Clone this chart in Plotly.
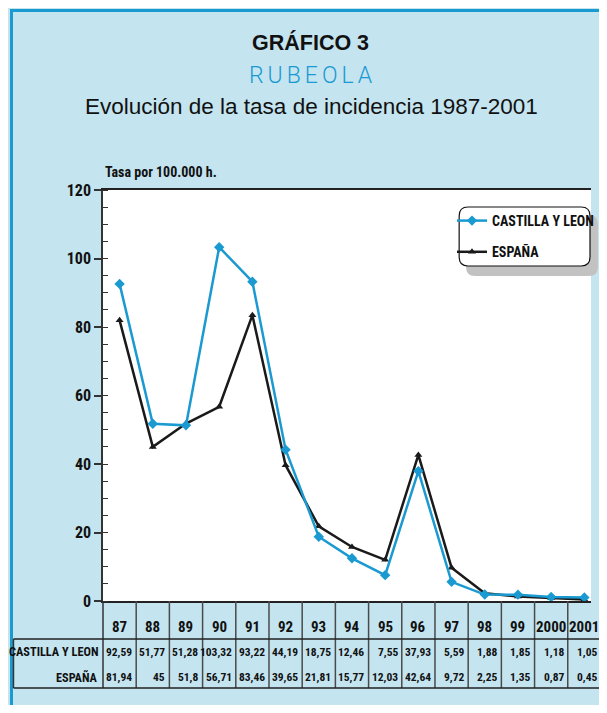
import plotly.graph_objects as go

# ---------------- data ----------------
years = ["87", "88", "89", "90", "91", "92", "93", "94", "95", "96", "97", "98", "99", "2000", "2001"]
castilla = [92.59, 51.77, 51.28, 103.32, 93.22, 44.19, 18.75, 12.46, 7.55, 37.93, 5.59, 1.88, 1.85, 1.18, 1.05]
espana = [81.94, 45, 51.8, 56.71, 83.46, 39.65, 21.81, 15.77, 12.03, 42.64, 9.72, 2.25, 1.35, 0.87, 0.45]
series_names = ["CASTILLA Y LEON", "ESPAÑA"]

# ---------------- style ----------------
# the page body has an 8px margin; the figure fills the window without overflow
OFF = 8
W, H = 607 - 2 * OFF, 713 - 2 * OFF
L, R, T = 103 - OFF, 0, 190 - OFF
B = H - (601 - OFF)
PW, PH = W - L - R, H - T - B
BLUE = "#1a9ad0"
BG = "#c4e4f0"
NARROW = "Roboto Condensed, Open Sans Condensed, DejaVu Sans Condensed, sans-serif"
SANS = "Liberation Sans, Arial, sans-serif"


def px(xp):  # page pixel -> paper fraction
    return (xp - OFF - L) / PW


def py(yp):
    return (H - B - (yp - OFF)) / PH


def fmt(v):
    return f"{v:g}".replace(".", ",")


idx = list(range(len(years)))

fig = go.Figure()
fig.add_trace(go.Scatter(
    x=idx, y=espana, name=series_names[1], mode="lines+markers", legendgroup="b", legendrank=2,
    line=dict(color="#1a1a1a", width=2.5), marker=dict(symbol="triangle-up", size=7, color="#1a1a1a"),
    cliponaxis=False))
fig.add_trace(go.Scatter(
    x=idx, y=castilla, name=series_names[0], mode="lines+markers", legendgroup="a", legendrank=1,
    line=dict(color=BLUE, width=2.5), marker=dict(symbol="diamond", size=8, color=BLUE),
    cliponaxis=False))

shapes = []
# blue frame
shapes.append(dict(type="line", xref="paper", yref="paper", x0=px(8.5), x1=px(620), y0=py(10.5), y1=py(10.5),
                   line=dict(color=BLUE, width=3)))
shapes.append(dict(type="line", xref="paper", yref="paper", x0=px(10), x1=px(10), y0=py(9), y1=py(720),
                   line=dict(color=BLUE, width=3)))

# table grid
tbl_mid, tbl_bot, tbl_left = 639, 688, 12
for i in idx[:-1]:
    shapes.append(dict(type="line", xref="x", yref="paper", x0=i + 0.5, x1=i + 0.5, y0=py(601), y1=py(tbl_bot),
                       line=dict(color="#4a4a4a", width=1.5)))
shapes.append(dict(type="line", xref="paper", yref="paper", x0=0, x1=0, y0=py(601), y1=py(tbl_bot),
                   line=dict(color="#333333", width=1.5)))
shapes.append(dict(type="line", xref="paper", yref="paper", x0=px(tbl_left), x1=px(tbl_left), y0=py(tbl_mid),
                   y1=py(tbl_bot), line=dict(color="#333333", width=1.5)))
for yy in (tbl_mid, tbl_bot):
    shapes.append(dict(type="line", xref="paper", yref="paper", x0=px(tbl_left), x1=px(620), y0=py(yy), y1=py(yy),
                       line=dict(color="#222222", width=1.5)))


# legend box with shadow (rounded)
def rounded(x0, y0, x1, y1, r):
    X0, X1 = px(x0), px(x1)
    Y0, Y1 = py(y0), py(y1)
    rx, ry = r / PW, r / PH
    return (f"M {X0+rx},{Y0} L {X1-rx},{Y0} Q {X1},{Y0} {X1},{Y0-ry} "
            f"L {X1},{Y1+ry} Q {X1},{Y1} {X1-rx},{Y1} L {X0+rx},{Y1} Q {X0},{Y1} {X0},{Y1+ry} "
            f"L {X0},{Y0-ry} Q {X0},{Y0} {X0+rx},{Y0} Z")


shapes.append(dict(type="path", xref="paper", yref="paper", path=rounded(472, 215, 606, 276, 9),
                   fillcolor="#c2c2c2", line=dict(width=0)))
shapes.append(dict(type="path", xref="paper", yref="paper", path=rounded(465, 207, 598, 266, 9),
                   fillcolor="white", line=dict(color="#111111", width=1.2)))

annotations = []


def ann(text, x, y, font, xref="paper", xanchor="center", xshift=0):
    annotations.append(dict(text=text, x=x, y=y, xref=xref, yref="paper", xanchor=xanchor, yanchor="middle",
                            xshift=xshift, showarrow=False, font=font))


ann("<b>GRÁFICO 3</b>", px(314), py(42), dict(family=SANS, size=21.5, color="#111111"))
ann('<span style="letter-spacing:4px">RUBEOLA</span>', px(316), py(75),
    dict(family="Roboto, Liberation Sans, sans-serif", size=23, color=BLUE, weight=300))
ann("Evolución de la tasa de incidencia 1987-2001", px(315), py(107), dict(family=SANS, size=22.5, color="#111111"))
ann("<b>Tasa por 100.000 h.</b>", 0, py(172), dict(family=NARROW, size=14, color="#111111"), xanchor="left")

# table text
for i, yr in enumerate(years):
    ann(f"<b>{yr}</b>", i, py(627), dict(family=NARROW, size=15, color="#111111"), xref="x")
for row_y, name, vals in ((652, series_names[0], castilla), (677, series_names[1], espana)):
    ann(f"<b>{name}</b>", px(100), py(row_y), dict(family=NARROW, size=12.3, color="#111111"), xanchor="right")
    for i, v in enumerate(vals):
        ann(f"<b>{fmt(v)}</b>", i, py(row_y), dict(family=NARROW, size=11.5, color="#111111"),
            xref="x", xanchor="right", xshift=14.5)

fig.update_layout(
    width=W, height=H,
    margin=dict(l=L, r=R, t=T, b=B, pad=0),
    paper_bgcolor=BG, plot_bgcolor="white",
    showlegend=True,
    legend=dict(x=px(458), xanchor="left", y=py(205), yanchor="top", bgcolor="rgba(0,0,0,0)",
                borderwidth=0, tracegroupgap=10, traceorder="grouped",
                font=dict(family=NARROW, size=14, color="#111111", weight="bold")),
    xaxis=dict(range=[-0.5, 14.2], showgrid=False, zeroline=False, showticklabels=False, ticks="",
               showline=True, mirror=True, linecolor="#222222", linewidth=1.5, fixedrange=True),
    yaxis=dict(range=[0, 120], dtick=20, showgrid=False, zeroline=False, ticks="outside", ticklen=7,
               tickwidth=1.5, tickcolor="#333333", showline=True, linecolor="#333333", linewidth=1.5,
               tickfont=dict(family=NARROW, size=16, color="#111111", weight="bold"),
               minor=dict(dtick=5, ticks="inside", ticklen=5, tickwidth=1.2, tickcolor="#333333"),
               fixedrange=True),
    shapes=shapes,
    annotations=annotations,
)

fig.write_html("out.html")
